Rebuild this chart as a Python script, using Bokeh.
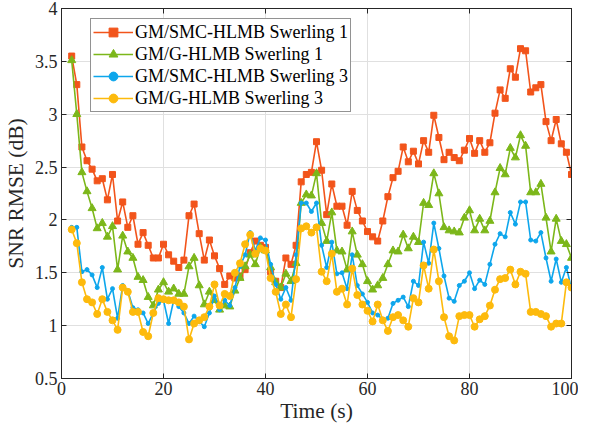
from bokeh.plotting import figure
from bokeh.models import Range1d, FixedTicker, Legend, LegendItem, LinearAxis
from bokeh.embed import file_html
from bokeh.resources import INLINE

time = list(range(2, 101))

smc_sw1 = [3.55, 3.28, 2.69, 2.56, 2.48, 2.37, 2.39, 2.19, 2.43, 1.99,
           2.17, 1.93, 2.04, 1.77, 1.88, 1.76, 1.64, 1.64, 1.77, 1.67,
           1.61, 1.55, 1.62, 2.04, 2.15, 1.87, 1.62, 1.81, 1.66, 1.54,
           1.39, 1.47, 1.45, 1.47, 1.53, 1.69, 1.80, 1.76, 1.74, 1.51,
           1.42, 1.36, 1.64, 1.58, 1.76, 2.36, 2.43, 2.45, 2.74, 2.47,
           2.05, 2.34, 2.13, 2.13, 1.95, 2.27, 2.09, 1.99, 1.89, 1.84,
           1.80, 1.99, 2.22, 2.40, 2.46, 2.69, 2.55, 2.65, 2.53, 2.75,
           2.64, 2.99, 2.78, 2.57, 2.64, 2.59, 2.56, 2.66, 2.77, 2.63,
           2.75, 2.64, 2.73, 3.01, 3.23, 3.15, 3.43, 3.35, 3.62, 3.60,
           3.21, 3.25, 3.28, 2.93, 2.75, 2.95, 2.72, 2.64, 2.43]

g_sw1 = [3.51, 3.00, 2.45, 2.27, 2.11, 1.92, 1.97, 1.84, 1.94, 1.53,
         1.85, 1.70, 1.64, 1.46, 1.43, 1.27, 1.19, 1.34, 1.41, 1.32,
         1.35, 1.30, 1.30, 1.56, 1.64, 1.38, 1.20, 1.32, 1.24, 1.15,
         1.19, 1.18, 1.33, 1.45, 1.56, 1.67, 1.58, 1.74, 1.71, 1.55,
         1.41, 1.36, 1.49, 1.42, 1.59, 2.16, 2.24, 2.23, 2.44, 1.97,
         1.80, 2.07, 1.71, 1.70, 1.53, 1.89, 1.67, 1.58, 1.42, 1.34,
         1.38, 1.45, 1.58, 1.71, 1.70, 1.86, 1.73, 1.84, 1.79, 2.16,
         2.14, 2.44, 2.25, 1.93, 1.90, 1.89, 1.88, 2.02, 2.09, 1.90,
         2.01, 1.90, 1.99, 2.26, 2.49, 2.43, 2.68, 2.59, 2.80, 2.70,
         2.26, 2.26, 2.34, 2.02, 1.70, 2.01, 1.80, 1.77, 1.64]

smc_sw3 = [1.93, 1.93, 1.51, 1.53, 1.48, 1.36, 1.55, 1.25, 1.35, 1.07,
           1.38, 1.33, 1.17, 1.15, 1.12, 1.02, 1.12, 1.21, 1.24, 1.02,
           1.24, 1.18, 1.12, 1.02, 1.09, 1.04, 0.99, 1.12, 1.28, 1.15,
           1.24, 1.19, 1.36, 1.56, 1.67, 1.88, 1.71, 1.83, 1.81, 1.58,
           1.39, 1.25, 1.36, 1.24, 1.67, 2.16, 2.16, 2.08, 2.16, 1.76,
           1.55, 1.79, 1.49, 1.50, 1.35, 1.67, 1.38, 1.30, 1.22, 1.12,
           1.10, 1.06, 1.07, 1.21, 1.24, 1.27, 1.18, 1.42, 1.38, 1.79,
           1.59, 1.97, 1.73, 1.47, 1.26, 1.23, 1.38, 1.42, 1.50, 1.35,
           1.43, 1.39, 1.58, 1.77, 1.87, 1.84, 2.07, 1.96, 2.17, 2.17,
           1.81, 1.80, 1.88, 1.64, 1.42, 1.63, 1.41, 1.55, 1.35]

g_sw3 = [1.91, 1.78, 1.41, 1.25, 1.22, 1.11, 1.25, 1.13, 1.05, 0.96,
         1.36, 1.32, 1.13, 1.13, 0.94, 0.90, 1.12, 1.26, 1.25, 1.24,
         1.24, 1.22, 1.18, 0.87, 1.02, 1.05, 1.08, 1.18, 1.39, 1.19,
         1.30, 1.28, 1.50, 1.59, 1.77, 1.86, 1.68, 1.73, 1.71, 1.45,
         1.32, 1.11, 1.20, 1.08, 1.44, 1.92, 1.94, 1.88, 1.93, 1.51,
         1.42, 1.68, 1.32, 1.35, 1.20, 1.54, 1.29, 1.20, 1.14, 1.04,
         1.20, 1.05, 0.95, 1.08, 1.10, 1.05, 0.99, 1.26, 1.22, 1.57,
         1.35, 1.72, 1.42, 1.08, 0.90, 0.86, 1.09, 1.10, 1.10, 0.99,
         1.06, 1.09, 1.19, 1.34, 1.44, 1.45, 1.53, 1.39, 1.51, 1.49,
         1.13, 1.13, 1.11, 1.09, 0.99, 1.02, 1.02, 1.41, 1.36]

labels = ["GM/SMC-HLMB Swerling 1", "GM/G-HLMB Swerling 1",
          "GM/SMC-HLMB Swerling 3", "GM/G-HLMB Swerling 3"]
x_ticks = [0, 20, 40, 60, 80, 100]
y_ticks = [0.5, 1, 1.5, 2, 2.5, 3, 3.5, 4]

FONT = "Liberation Serif"
AX = "#262626"

p = figure(width=578, height=428, output_backend="svg", toolbar_location=None,
           x_range=Range1d(0, 100), y_range=Range1d(0.5, 4),
           min_border_left=50, min_border_right=7, min_border_top=8,
           min_border_bottom=50)
p.outline_line_color = AX
p.outline_line_width = 1
p.background_fill_color = "white"

for ax in [p.xaxis[0], p.yaxis[0]]:
    ax.major_tick_in = 5
    ax.major_tick_out = 0
    ax.minor_tick_line_color = None
    ax.axis_line_color = AX
    ax.major_tick_line_color = AX
    ax.major_label_text_font = FONT
    ax.major_label_text_font_size = "18px"
    ax.major_label_text_color = AX
    ax.axis_label_text_font = FONT
    ax.axis_label_text_font_size = "21.5px"
    ax.axis_label_text_font_style = "normal"
    ax.axis_label_text_color = AX

p.xaxis[0].ticker = FixedTicker(ticks=x_ticks)
p.yaxis[0].ticker = FixedTicker(ticks=y_ticks)
p.xaxis[0].axis_label = "Time (s)"
p.yaxis[0].axis_label = "SNR RMSE (dB)"
p.xaxis[0].major_label_standoff = 3
p.yaxis[0].major_label_standoff = 4
p.xaxis[0].axis_label_standoff = 1
p.yaxis[0].axis_label_standoff = 4

# box ticks on top and right (no labels)
for loc, tk in [("above", x_ticks), ("right", y_ticks)]:
    a = LinearAxis(ticker=FixedTicker(ticks=tk), major_tick_in=5, major_tick_out=0,
                   minor_tick_line_color=None, axis_line_color=AX,
                   major_tick_line_color=AX, major_label_text_color=None,
                   major_label_text_font_size="0px", major_label_standoff=0)
    p.add_layout(a, loc)

p.xgrid.ticker = FixedTicker(ticks=x_ticks)
p.ygrid.ticker = FixedTicker(ticks=y_ticks)
p.grid.grid_line_color = "#e0e0e0"
p.grid.grid_line_width = 1

colors = ["#F2541B", "#7CB71A", "#0DA6EC", "#FDBA0C"]
series = [smc_sw1, g_sw1, smc_sw3, g_sw3]
markers = ["square", "triangle", "circle", "circle"]
msizes = [6, 8, 4, 7]

items = []
for lab, ys, c, m, ms in zip(labels, series, colors, markers, msizes):
    r1 = p.line(time, ys, line_color=c, line_width=1.6)
    r2 = p.scatter(time, ys, marker=m, size=ms, fill_color=c, line_color=c)
    items.append(LegendItem(label=lab, renderers=[r1, r2]))

leg = Legend(items=items, location=(29, 266))
leg.label_text_font = FONT
leg.label_text_font_size = "18px"
leg.label_text_color = "black"
leg.border_line_color = AX
leg.border_line_width = 1
leg.glyph_width = 40
leg.glyph_height = 22
leg.label_height = 22
leg.spacing = 0
leg.padding = 2
leg.label_standoff = 2
leg.margin = 0
leg.background_fill_alpha = 1
p.add_layout(leg, "center")

open("out.html", "w").write(file_html(p, INLINE))
